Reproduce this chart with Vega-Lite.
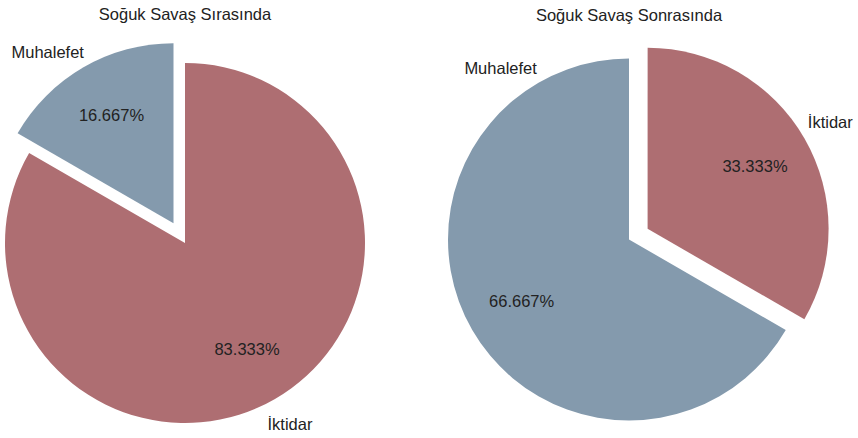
{
  "$schema": "https://vega.github.io/schema/vega-lite/v6.json",
  "padding": {"top": 6, "left": -7, "right": 0, "bottom": 0},
  "background": "white",
  "bounds": "flush",
  "spacing": 74,
  "config": {"view": {"stroke": null}, "font": "Liberation Sans"},
  "datasets": {
    "pie": [
      {"Donem": "Soğuk Savaş Sırasında", "Parti": "İktidar", "Oran": 0.83333, "Sira": 1},
      {"Donem": "Soğuk Savaş Sırasında", "Parti": "Muhalefet", "Oran": 0.16667, "Sira": 2},
      {"Donem": "Soğuk Savaş Sonrasında", "Parti": "İktidar", "Oran": 0.33333, "Sira": 1},
      {"Donem": "Soğuk Savaş Sonrasında", "Parti": "Muhalefet", "Oran": 0.66667, "Sira": 2}
    ]
  },
  "hconcat": [
    {
      "title": {"text": "Soğuk Savaş Sırasında", "frame": "group", "anchor": "middle", "fontSize": 16.5, "font": "Liberation Sans", "fontWeight": "normal", "color": "#222222", "baseline": "alphabetic", "offset": 7},
      "width": 370,
      "height": 390,
      "data": {"name": "pie"},
      "transform": [{"filter": "datum.Donem === 'Soğuk Savaş Sırasında'"}],
      "encoding": {
        "theta": {"field": "Oran", "type": "quantitative", "stack": true},
        "order": {"field": "Sira", "type": "quantitative"}
      },
      "layer": [
        {
          "mark": {"type": "arc", "outerRadius": 180},
          "encoding": {
            "color": {"field": "Parti", "type": "nominal", "scale": {"domain": ["İktidar", "Muhalefet"], "range": ["#ae6e72", "#849aad"]}, "legend": null},
            "opacity": {"condition": {"test": "datum.Parti === 'Muhalefet'", "value": 0}, "value": 1}
          }
        },
        {
          "mark": {"type": "arc", "outerRadius": 180, "xOffset": -11.5, "yOffset": -19.8},
          "encoding": {
            "color": {"field": "Parti", "type": "nominal", "scale": {"domain": ["İktidar", "Muhalefet"], "range": ["#ae6e72", "#849aad"]}, "legend": null},
            "opacity": {"condition": {"test": "datum.Parti === 'Muhalefet'", "value": 1}, "value": 0}
          }
        },
        {
          "mark": {"type": "text", "radius": 124, "fontSize": 16.5, "font": "Liberation Sans", "color": "#222222", "align": "center", "baseline": "middle"},
          "encoding": {
            "text": {"field": "Oran", "type": "quantitative", "format": ".3%"},
            "opacity": {"condition": {"test": "datum.Parti === 'İktidar'", "value": 1}, "value": 0}
          }
        },
        {
          "mark": {"type": "text", "radius": 124, "dx": -11.5, "dy": -19.8, "fontSize": 16.5, "font": "Liberation Sans", "color": "#222222", "align": "center", "baseline": "middle"},
          "encoding": {
            "text": {"field": "Oran", "type": "quantitative", "format": ".3%"},
            "opacity": {"condition": {"test": "datum.Parti === 'Muhalefet'", "value": 1}, "value": 0}
          }
        },
        {
          "mark": {"type": "text", "radius": 210, "fontSize": 16.5, "font": "Liberation Sans", "color": "#222222", "align": "center", "baseline": "middle"},
          "encoding": {
            "text": {"field": "Parti", "type": "nominal"},
            "opacity": {"condition": {"test": "datum.Parti === 'İktidar'", "value": 1}, "value": 0}
          }
        },
        {
          "mark": {"type": "text", "radius": 212, "dx": -11.5, "dy": -19.8, "fontSize": 16.5, "font": "Liberation Sans", "color": "#222222", "align": "center", "baseline": "middle"},
          "encoding": {
            "text": {"field": "Parti", "type": "nominal"},
            "theta": {"value": 5.648},
            "opacity": {"condition": {"test": "datum.Parti === 'Muhalefet'", "value": 1}, "value": 0}
          }
        }
      ]
    },
    {
      "title": {"text": "Soğuk Savaş Sonrasında", "frame": "group", "anchor": "middle", "fontSize": 16.5, "font": "Liberation Sans", "fontWeight": "normal", "color": "#222222", "baseline": "alphabetic", "offset": 10},
      "width": 370,
      "height": 383,
      "data": {"name": "pie"},
      "transform": [{"filter": "datum.Donem === 'Soğuk Savaş Sonrasında'"}],
      "encoding": {
        "theta": {"field": "Oran", "type": "quantitative", "stack": true},
        "order": {"field": "Sira", "type": "quantitative"}
      },
      "layer": [
        {
          "mark": {"type": "arc", "outerRadius": 181},
          "encoding": {
            "color": {"field": "Parti", "type": "nominal", "scale": {"domain": ["İktidar", "Muhalefet"], "range": ["#ae6e72", "#849aad"]}, "legend": null},
            "opacity": {"condition": {"test": "datum.Parti === 'İktidar'", "value": 0}, "value": 1}
          }
        },
        {
          "mark": {"type": "arc", "outerRadius": 181, "xOffset": 18.6, "yOffset": -10.7},
          "encoding": {
            "color": {"field": "Parti", "type": "nominal", "scale": {"domain": ["İktidar", "Muhalefet"], "range": ["#ae6e72", "#849aad"]}, "legend": null},
            "opacity": {"condition": {"test": "datum.Parti === 'İktidar'", "value": 1}, "value": 0}
          }
        },
        {
          "mark": {"type": "text", "radius": 124, "fontSize": 16.5, "font": "Liberation Sans", "color": "#222222", "align": "center", "baseline": "middle"},
          "encoding": {
            "text": {"field": "Oran", "type": "quantitative", "format": ".3%"},
            "opacity": {"condition": {"test": "datum.Parti === 'Muhalefet'", "value": 1}, "value": 0}
          }
        },
        {
          "mark": {"type": "text", "radius": 124, "dx": 18.6, "dy": -10.7, "fontSize": 16.5, "font": "Liberation Sans", "color": "#222222", "align": "center", "baseline": "middle"},
          "encoding": {
            "text": {"field": "Oran", "type": "quantitative", "format": ".3%"},
            "opacity": {"condition": {"test": "datum.Parti === 'İktidar'", "value": 1}, "value": 0}
          }
        },
        {
          "mark": {"type": "text", "radius": 211, "dx": 18.6, "dy": -10.7, "fontSize": 16.5, "font": "Liberation Sans", "color": "#222222", "align": "center", "baseline": "middle"},
          "encoding": {
            "text": {"field": "Parti", "type": "nominal"},
            "opacity": {"condition": {"test": "datum.Parti === 'İktidar'", "value": 1}, "value": 0}
          }
        },
        {
          "mark": {"type": "text", "radius": 213.5, "fontSize": 16.5, "font": "Liberation Sans", "color": "#222222", "align": "center", "baseline": "middle"},
          "encoding": {
            "text": {"field": "Parti", "type": "nominal"},
            "theta": {"value": 5.638},
            "opacity": {"condition": {"test": "datum.Parti === 'Muhalefet'", "value": 1}, "value": 0}
          }
        }
      ]
    }
  ]
}
